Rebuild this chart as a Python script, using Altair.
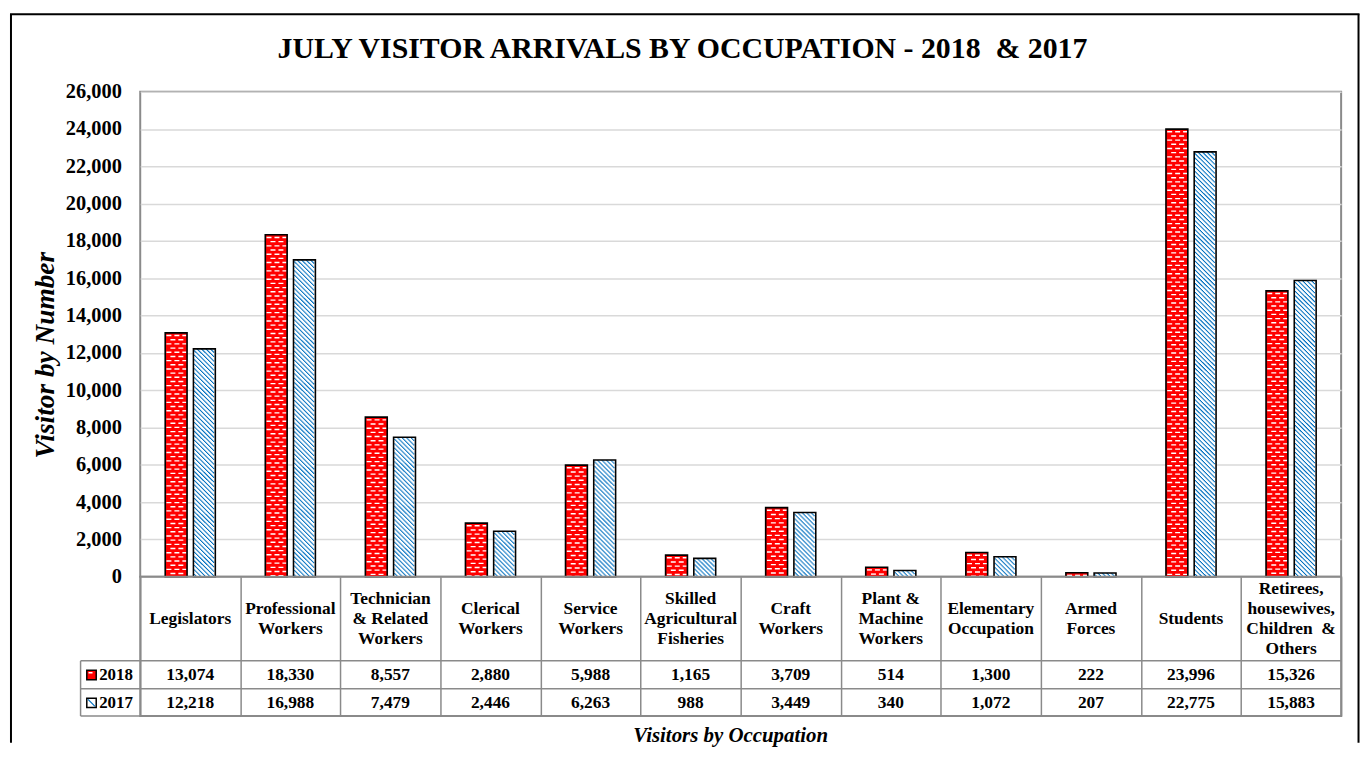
import altair as alt
import pandas as pd

# ---------------- data ----------------
keys = ["Legislators", "Professional Workers", "Technician & Related Workers",
        "Clerical Workers", "Service Workers", "Skilled Agricultural Fisheries",
        "Craft Workers", "Plant & Machine Workers", "Elementary Occupation",
        "Armed Forces", "Students", "Retirees, housewives, Children & Others"]
labels = ["Legislators", "Professional\nWorkers", "Technician\n& Related\nWorkers",
          "Clerical\nWorkers", "Service\nWorkers", "Skilled\nAgricultural\nFisheries",
          "Craft\nWorkers", "Plant &\nMachine\nWorkers", "Elementary\nOccupation",
          "Armed\nForces", "Students", "Retirees,\nhousewives,\nChildren\u00a0 &\nOthers"]
v2018 = [13074, 18330, 8557, 2880, 5988, 1165, 3709, 514, 1300, 222, 23996, 15326]
v2017 = [12218, 16988, 7479, 2446, 6263, 988, 3449, 340, 1072, 207, 22775, 15883]
years = ["2018", "2017"]
y_ticks = list(range(0, 26001, 2000))

TITLE = "JULY VISITOR ARRIVALS BY OCCUPATION - 2018\u00a0 & 2017"
Y_TITLE = "Visitor by Number"
X_TITLE = "Visitors by Occupation"

rows = []
for k, l, a, b in zip(keys, labels, v2018, v2017):
    rows.append({"cat": k, "label": l, "year": years[0], "value": a})
    rows.append({"cat": k, "label": l, "year": years[1], "value": b})
df = pd.DataFrame(rows)

SERIF = "Liberation Serif"
RED = "#FF0000"
BLUE = "#0070C0"
GRAY = "#8a8a8a"
W, H = 1208, 488
TH = 140
BAR_W = 22
C18, C17 = -14.2, 14.2

X = alt.X("cat:N", sort=keys, scale=alt.Scale(paddingInner=0, paddingOuter=0), axis=None)
Y = alt.Y("value:Q", scale=alt.Scale(domain=[0, 26000], nice=False),
          axis=alt.Axis(values=y_ticks, format=",.0f", labelFont=SERIF, labelFontWeight="bold",
                        labelFontSize=20.5, labelColor="black", labelPadding=19,
                        domain=False, ticks=False, grid=True, gridColor="#d9d9d9",
                        gridWidth=1.5, title=None))

base = alt.Chart(df)
f18 = "datum.year == '2018'"
f17 = "datum.year == '2017'"

layers = []
# 2018 bars (red) with white brick dashes
layers.append(base.transform_filter(f18).mark_bar(width=BAR_W, xOffset=C18, fill=RED, strokeWidth=0)
              .encode(x=X, y=Y))
P = 8.4
segsA = [(0.5, 5.5), (8.5, 13.5), (16.5, 20.5)]
segsB = [(4.5, 9.5), (12.5, 17.5)]
for segs, s in ((segsA, 2.0), (segsB, 6.2)):
    for a, b in segs:
        layers.append(base.transform_filter(f18)
                      .mark_rule(color="white", strokeWidth=b - a,
                                 xOffset=C18 - 10.25 + (a + b) / 2,
                                 strokeDash=[1.4, P - 1.4], strokeDashOffset=(P - s) % P,
                                 strokeCap="butt")
                      .encode(x=X, y=Y, y2=alt.datum(0)))
# 2017 bars (white with blue diagonal hatch)
layers.append(base.transform_filter(f17).mark_bar(width=BAR_W, xOffset=C17, fill="white", strokeWidth=0)
              .encode(x=X, y=Y))
PB = 4.5
for k in range(20):
    s = 1.5 + (k % PB)
    layers.append(base.transform_filter(f17)
                  .mark_rule(color=BLUE, strokeWidth=1.2, xOffset=C17 - 9.75 + k,
                             strokeDash=[1.3, PB - 1.3], strokeDashOffset=(PB - s) % PB,
                             strokeCap="butt")
                  .encode(x=X, y=Y, y2=alt.datum(0)))
# outlines
for yr, c in ((f18, C18), (f17, C17)):
    layers.append(base.transform_filter(yr)
                  .mark_bar(width=BAR_W, xOffset=c, fillOpacity=0, stroke="black", strokeWidth=1.6)
                  .encode(x=X, y=Y))

one = alt.Chart(pd.DataFrame({"t": [TITLE], "yt": [Y_TITLE], "xt": [X_TITLE]}))
# outer frame (left, top, right)
FB = 655
layers.append(one.mark_rule(color="black", strokeWidth=2)
              .encode(x=alt.value(-130), y=alt.value(-78), y2=alt.value(FB)))
layers.append(one.mark_rule(color="black", strokeWidth=2)
              .encode(x=alt.value(-131), x2=alt.value(1226.5), y=alt.value(-78)))
layers.append(one.mark_rule(color="black", strokeWidth=2)
              .encode(x=alt.value(1225.5), y=alt.value(-78), y2=alt.value(FB)))
# title
layers.append(one.mark_text(font=SERIF, fontWeight="bold", fontSize=30, baseline="alphabetic",
                            align="center", color="black")
              .encode(x=alt.value(545.5), y=alt.value(-34), text="t:N"))
# y title
layers.append(one.mark_text(font=SERIF, fontWeight="bold", fontStyle="italic", fontSize=27.5,
                            angle=270, baseline="middle", align="center", color="black")
              .encode(x=alt.value(-95), y=alt.value(265), text="yt:N"))

main = alt.layer(*layers).properties(width=W, height=H)

# ---------------- data table ----------------
Xt = alt.X("cat:N", sort=keys, scale=alt.Scale(paddingInner=0, paddingOuter=0),
           axis=alt.Axis(grid=True, tickBand="extent", labels=False, ticks=False, domain=False,
                         title=None, gridColor=GRAY, gridWidth=1.5))
tb = alt.Chart(df)
tl = []
tl.append(tb.transform_filter(f18)
          .transform_calculate(nl="length(split(datum.label, '\\n'))")
          .transform_calculate(ty="42.5 - (datum.nl - 1) * 10")
          .mark_text(lineBreak="\n", font=SERIF, fontWeight="bold", fontSize=17.5, lineHeight=20,
                     baseline="middle", align="center", color="black")
          .encode(x=Xt, y=alt.Y("ty:Q", scale=None, axis=None), text="label:N"))
tl.append(tb.transform_filter(f18)
          .mark_text(font=SERIF, fontWeight="bold", fontSize=17.5, baseline="middle",
                     align="center", color="black")
          .encode(x=Xt, y=alt.value(98.8), text=alt.Text("value:Q", format=",")))
tl.append(tb.transform_filter(f17)
          .mark_text(font=SERIF, fontWeight="bold", fontSize=17.5, baseline="middle",
                     align="center", color="black")
          .encode(x=Xt, y=alt.value(126.8), text=alt.Text("value:Q", format=",")))

yl = alt.Chart(pd.DataFrame({"y": years}))
g18 = "datum.y == '2018'"
g17 = "datum.y == '2017'"
tl.append(yl.transform_filter(g18).mark_text(font=SERIF, fontWeight="bold", fontSize=17,
                                             baseline="middle", align="left", color="black")
          .encode(x=alt.value(-41.3), y=alt.value(98.8), text="y:N"))
tl.append(yl.transform_filter(g17).mark_text(font=SERIF, fontWeight="bold", fontSize=17,
                                             baseline="middle", align="left", color="black")
          .encode(x=alt.value(-41.3), y=alt.value(126.8), text="y:N"))
# legend keys
tl.append(yl.transform_filter(g18).mark_square(size=90, fill=RED, stroke="black",
                                               strokeWidth=1.5, opacity=1)
          .encode(x=alt.value(-49), y=alt.value(98.8)))
tl.append(yl.transform_filter(g18).mark_rule(color="white", strokeWidth=1.5)
          .encode(x=alt.value(-52), x2=alt.value(-48), y=alt.value(96.5)))
tl.append(yl.transform_filter(g17).mark_square(size=90, fill="white", stroke="black",
                                               strokeWidth=1.5, opacity=1)
          .encode(x=alt.value(-49), y=alt.value(126.8)))
tl.append(yl.transform_filter(g17).mark_rule(color=BLUE, strokeWidth=1.2)
          .encode(x=alt.value(-52.5), y=alt.value(123.3), x2=alt.value(-45.5), y2=alt.value(130.3)))
# table lines
for yy in (84.5, 112.5, 140):
    tl.append(one.mark_rule(color=GRAY, strokeWidth=1.5)
              .encode(x=alt.value(-60), x2=alt.value(W), y=alt.value(yy)))
tl.append(one.mark_rule(color=GRAY, strokeWidth=1.5)
          .encode(x=alt.value(-60), y=alt.value(84.5), y2=alt.value(140)))
# x title
tl.append(one.mark_text(font=SERIF, fontWeight="bold", fontStyle="italic", fontSize=21,
                        baseline="alphabetic", align="center", color="black")
          .encode(x=alt.value(594), y=alt.value(166), text="xt:N"))

table = alt.layer(*tl).properties(width=W, height=TH)

chart = (alt.vconcat(main, table, spacing=0, bounds="flush")
         .properties(padding={"left": 0, "top": 2, "right": 0, "bottom": 0})
         .configure_view(stroke=GRAY, strokeWidth=2))

chart.save("out.html", embed_options={"renderer": "svg", "actions": False})
